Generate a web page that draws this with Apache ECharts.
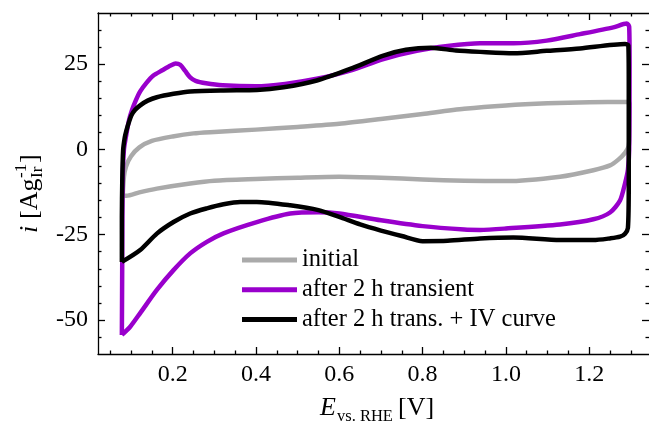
<!DOCTYPE html>
<html><head><meta charset="utf-8">
<script src="https://cdn.jsdelivr.net/npm/echarts@6/dist/echarts.min.js"></script>
<style>html,body{margin:0;padding:0;background:#fff}#c{width:649px;height:422px}</style>
</head><body><div id="c"></div>
<script>
// ---- data (E in V vs RHE, i in A/g_Ir) ----
const seriesNames = ['initial', 'after 2 h transient', 'after 2 h trans. + IV curve'];

const initialE = [0.080,0.083,0.088,0.100,0.120,0.150,0.200,0.250,0.300,0.400,0.500,0.600,0.700,0.800,0.900,1.000,1.100,1.200,1.290,1.297,1.297,1.295,1.286,1.270,1.250,1.210,1.130,1.000,0.900,0.800,0.700,0.600,0.500,0.400,0.300,0.242,0.162,0.120,0.089,0.080];
const initialI = [-13.5,-8.0,-5.0,-2.0,0.6,2.5,3.8,4.7,5.1,5.8,6.6,7.5,8.9,10.4,11.9,12.9,13.5,13.8,13.9,13.5,6.0,1.0,-1.0,-3.0,-4.7,-6.1,-8.0,-9.3,-9.2,-8.8,-8.3,-8.0,-8.3,-8.7,-9.2,-10.0,-11.5,-12.6,-13.6,-13.5];

const transientE = [0.078,0.079,0.080,0.083,0.089,0.095,0.102,0.112,0.122,0.137,0.153,0.175,0.195,0.207,0.218,0.230,0.242,0.255,0.280,0.320,0.400,0.470,0.546,0.626,0.706,0.786,0.860,0.938,1.018,1.098,1.178,1.258,1.290,1.296,1.297,1.296,1.293,1.286,1.274,1.250,1.210,1.130,1.000,0.938,0.900,0.800,0.700,0.600,0.550,0.482,0.402,0.322,0.282,0.242,0.202,0.162,0.122,0.098,0.078];
const transientI = [-54.4,-30.0,-9.0,0.0,4.6,8.5,11.4,14.5,17.0,19.5,21.6,23.2,24.6,25.2,24.8,23.0,21.1,20.1,19.4,18.8,18.5,19.2,20.7,23.1,26.5,28.9,30.3,31.1,31.1,31.9,33.8,35.8,36.9,36.0,25.0,0.0,-6.0,-10.0,-15.0,-18.5,-20.5,-22.0,-23.2,-23.6,-23.5,-22.5,-20.8,-18.8,-18.4,-18.8,-21.3,-24.6,-27.1,-30.5,-35.4,-41.2,-48.0,-52.0,-54.4];

const ivE = [0.078,0.078,0.079,0.081,0.085,0.089,0.095,0.101,0.110,0.122,0.140,0.162,0.202,0.242,0.322,0.402,0.466,0.546,0.626,0.706,0.760,0.820,0.880,0.938,1.018,1.098,1.178,1.286,1.294,1.295,1.295,1.293,1.286,1.274,1.250,1.210,1.130,1.018,0.938,0.860,0.800,0.750,0.700,0.650,0.600,0.550,0.482,0.402,0.362,0.322,0.282,0.242,0.202,0.162,0.122,0.078];
const ivI = [-33.0,-20.0,-9.0,-0.3,3.5,5.6,8.0,10.0,11.6,12.9,14.3,15.3,16.3,17.0,17.3,17.4,18.2,20.2,23.6,27.5,29.2,29.8,29.0,28.6,28.2,28.9,29.6,30.9,30.5,20.0,-10.0,-23.0,-24.7,-25.6,-26.1,-26.6,-26.6,-25.8,-26.1,-26.8,-26.9,-25.4,-23.8,-22.0,-19.8,-17.8,-16.4,-15.4,-15.4,-16.1,-17.3,-18.8,-21.3,-24.7,-29.5,-33.0];

const xMajorTicks = [0.2, 0.4, 0.6, 0.8, 1.0, 1.2];
const xMinorTicks = [0.05,0.1,0.15,0.25,0.3,0.35,0.45,0.5,0.55,0.65,0.7,0.75,0.85,0.9,0.95,1.05,1.1,1.15,1.25,1.3];
const yMajorTicks = [-50, -25, 0, 25];
const yMinorTicks = [-55,-45,-40,-35,-30,-20,-15,-10,-5,5,10,15,20,30,35];

// ---- chart ----
const FONT = '"Liberation Serif", "Times New Roman", serif';
const xMin = 0.0207, xMax = 1.3436, yMin = -60, yMax = 40;
const zip = (a, b) => a.map((v, k) => [v, b[k]]);

function xAxisDef(grid, pos, ticks, len, showLine, labels) {
  return {
    type: 'value', gridIndex: grid, position: pos, min: xMin, max: xMax,
    axisLine: { show: showLine, onZero: false, lineStyle: { color: '#000', width: 1.3 } },
    axisTick: { show: true, inside: true, length: len, customValues: ticks, lineStyle: { color: '#000', width: 1.3 } },
    axisLabel: labels ? { show: true, customValues: ticks, formatter: v => v.toFixed(1), fontFamily: FONT, fontSize: 24, color: '#000', margin: 9 } : { show: false },
    splitLine: { show: false }
  };
}
function yAxisDef(grid, pos, ticks, len, showLine, labels) {
  return {
    type: 'value', gridIndex: grid, position: pos, min: yMin, max: yMax,
    axisLine: { show: showLine, onZero: false, lineStyle: { color: '#000', width: 1.3 } },
    axisTick: { show: true, inside: true, length: len, customValues: ticks, lineStyle: { color: '#000', width: 1.3 } },
    axisLabel: labels ? { show: true, customValues: ticks, formatter: v => String(v), fontFamily: FONT, fontSize: 24, color: '#000', margin: 10 } : { show: false },
    splitLine: { show: false }
  };
}

const gridBox = { left: 98, right: 0, top: 13, bottom: 68 };
const colors = ['#aaaaaa', '#9900cc', '#000000'];
const dataSets = [zip(initialE, initialI), zip(transientE, transientI), zip(ivE, ivI)];

const chart = echarts.init(document.getElementById('c'), null, { renderer: 'canvas' });
chart.setOption({
  animation: false,
  backgroundColor: '#fff',
  grid: [Object.assign({}, gridBox), Object.assign({}, gridBox)],
  xAxis: [
    xAxisDef(0, 'bottom', xMajorTicks, 7, true, true),
    xAxisDef(0, 'top', xMajorTicks, 7, true, false),
    xAxisDef(1, 'bottom', xMinorTicks, 3.5, false, false),
    xAxisDef(1, 'top', xMinorTicks, 3.5, false, false)
  ],
  yAxis: [
    yAxisDef(0, 'left', yMajorTicks, 7, true, true),
    yAxisDef(0, 'right', yMajorTicks, 7, false, false),
    yAxisDef(1, 'left', yMinorTicks, 3.5, false, false),
    yAxisDef(1, 'right', yMinorTicks, 3.5, false, false)
  ],
  legend: {
    data: seriesNames, orient: 'vertical', left: 242, top: 247.5, padding: 0,
    icon: 'rect', itemWidth: 55, itemHeight: 5, itemGap: 4.7,
    textStyle: { fontFamily: FONT, fontSize: 24.5, color: '#000', lineHeight: 24.5 }
  },
  series: seriesNames.map((n, k) => ({
    name: n, type: 'line', xAxisIndex: 0, yAxisIndex: 0,
    data: dataSets[k], showSymbol: false, symbol: 'none', smooth: 0.25,
    lineStyle: { color: colors[k], width: 4.5, join: 'round' }, itemStyle: { color: colors[k] },
    z: 2 + k
  })),
  graphic: [
    { type: 'group', x: 30, y: 233, rotation: Math.PI / 2, children: [
      { type: 'text', x: 0, y: 0, style: { text: 'i', font: 'italic 26px ' + FONT, fill: '#000', verticalAlign: 'middle', textVerticalAlign: 'middle' } },
      { type: 'text', x: 7.5, y: 0, style: { text: ' [Ag', font: '26px ' + FONT, fill: '#000', verticalAlign: 'middle', textVerticalAlign: 'middle' } },
      { type: 'text', x: 55, y: -8, style: { text: '-1', font: '17px ' + FONT, fill: '#000', verticalAlign: 'middle', textVerticalAlign: 'middle' } },
      { type: 'text', x: 55, y: 8, style: { text: 'Ir', font: '17px ' + FONT, fill: '#000', verticalAlign: 'middle', textVerticalAlign: 'middle' } },
      { type: 'text', x: 70, y: 0, style: { text: ']', font: '26px ' + FONT, fill: '#000', verticalAlign: 'middle', textVerticalAlign: 'middle' } }
    ]},
    { type: 'text', x: 320, y: 408, style: { text: 'E', font: 'italic 26px ' + FONT, fill: '#000', verticalAlign: 'middle', textVerticalAlign: 'middle' } },
    { type: 'text', x: 337, y: 417, style: { text: 'vs. RHE', font: '16.5px ' + FONT, fill: '#000', verticalAlign: 'middle', textVerticalAlign: 'middle' } },
    { type: 'text', x: 398, y: 408, style: { text: '[V]', font: '26px ' + FONT, fill: '#000', verticalAlign: 'middle', textVerticalAlign: 'middle' } }
  ]
});
</script>
</body></html>
